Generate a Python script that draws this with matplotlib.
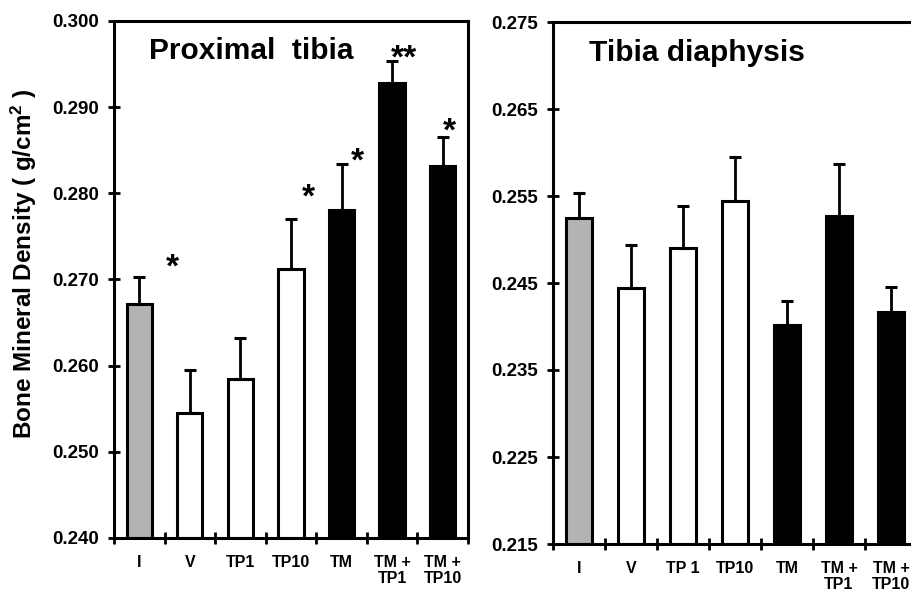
import numpy as np
import matplotlib
matplotlib.use("Agg")
import matplotlib.pyplot as plt

plt.rcParams['font.family'] = ['Liberation Sans', 'DejaVu Sans']
plt.rcParams['font.weight'] = 'bold'
plt.rcParams['mathtext.fontset'] = 'custom'
plt.rcParams['mathtext.bf'] = 'Liberation Sans:bold'
plt.rcParams['mathtext.rm'] = 'Liberation Sans:bold'
plt.rcParams['mathtext.default'] = 'bf'

# data
prox_labels = ["I", "V", "TP1", "TP10", "TM", "TM +\nTP1", "TM +\nTP10"]
prox_mean = [0.2672, 0.2545, 0.2585, 0.2712, 0.2781, 0.2928, 0.2832]
prox_top = [0.2703, 0.2595, 0.2632, 0.2770, 0.2834, 0.2954, 0.2865]

diaph_labels = ["I", "V", "TP 1", "TP10", "TM", "TM +\nTP1", "TM +\nTP10"]
diaph_mean = [0.2525, 0.2444, 0.2490, 0.2544, 0.2402, 0.2527, 0.2417]
diaph_top = [0.2553, 0.2494, 0.2539, 0.2595, 0.2429, 0.2587, 0.2445]

bar_colors = ["#b3b3b3", "white", "white", "white", "black", "black", "black"]

# significance marks (x position, top of mark)
star_text = ["*", "*", "*", "**", "*"]
star_x = [0.65, 3.34, 4.31, 5.23, 6.14]
star_y = [0.2731, 0.2812, 0.2854, 0.2974, 0.2889]

LW = 2.2
W, H = 912, 594


def draw_panel(ax, labels, mean, top, ylo, yhi, title):
    xs = np.arange(len(labels))
    mean = np.array(mean)
    err = np.array(top) - mean
    ax.bar(xs, mean - ylo, bottom=ylo, width=0.5, color=bar_colors,
           edgecolor="black", linewidth=LW, zorder=2)
    ax.errorbar(xs, mean, yerr=[np.zeros_like(err), err], fmt="none",
                ecolor="black", elinewidth=2.0, capsize=4, capthick=2.2, zorder=3)
    ax.set_xlim(-0.5, len(labels) - 0.5)
    ax.set_ylim(ylo, yhi)
    ax.set_yticks(np.arange(ylo, yhi + 0.001, 0.01))
    ax.set_yticklabels(["%.3f" % v for v in np.arange(ylo, yhi + 0.001, 0.01)])
    ax.set_xticks(xs)
    ax.set_xticklabels(labels, linespacing=1.12)
    ax.set_xticks(np.arange(-0.5, len(labels)), minor=True)
    ax.tick_params(axis='x', which='major', length=0, pad=12, labelsize=11.5)
    ax.tick_params(axis='x', which='minor', direction='inout', length=8.6, width=2)
    ax.tick_params(axis='y', direction='inout', length=8.6, width=2, pad=6.5, labelsize=13.5)
    for s in ax.spines.values():
        s.set_linewidth(LW)
    ax.text(0.1, 0.926, title, transform=ax.transAxes, fontsize=21.5,
            fontweight='bold', ha='left', va='baseline')


fig = plt.figure(figsize=(W / 100, H / 100), dpi=100)

ax1 = fig.add_axes([114 / W, (H - 538) / H, (468 - 114) / W, (538 - 21) / H])
draw_panel(ax1, prox_labels, prox_mean, prox_top, 0.240, 0.300, "Proximal  tibia")
for t, x, y in zip(star_text, star_x, star_y):
    ax1.text(x, y, t, fontsize=24, ha='center', va='top')

ax2 = fig.add_axes([553 / W, (H - 544) / H, (917 - 553) / W, (544 - 22) / H])
draw_panel(ax2, diaph_labels, diaph_mean, diaph_top, 0.215, 0.275, "Tibia diaphysis")
ax2.title.set_visible(False)

fig.text(24 / W, 1 - 264 / H, "Bone Mineral Density ( g/cm$^2$ )", rotation=90,
         fontsize=17.5, ha='center', va='center')

fig.savefig("out.png", dpi=100)
